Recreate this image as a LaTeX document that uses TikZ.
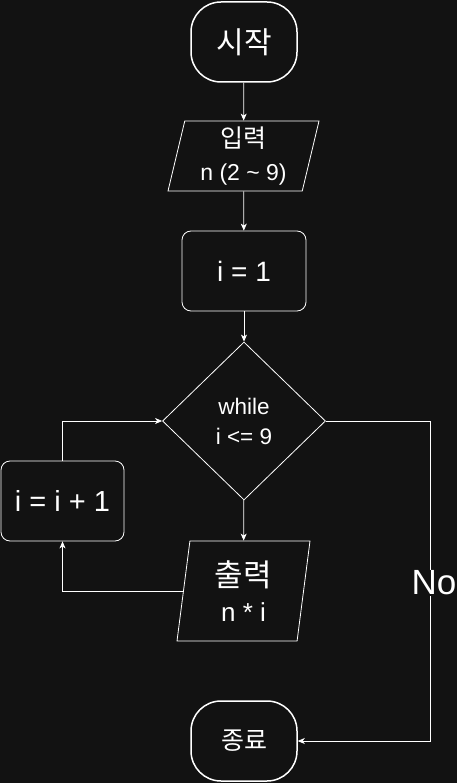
\documentclass[tikz,border=0pt]{standalone}
\usepackage{fontspec}
\setmainfont{Liberation Sans}
\newfontfamily\krfont{Noto Sans CJK KR}
\usepackage{xcolor}
\usepackage{tikz}
\usetikzlibrary{arrows.meta,shapes.geometric}
\definecolor{bg}{HTML}{121212}
\newcommand{\kr}[2]{{\krfont\fontsize{#1}{#1}\selectfont #2}}
\tikzset{
  term/.style={draw=white,line width=1.5pt,rectangle,rounded corners=30pt,minimum width=106pt,minimum height=80pt,inner sep=0pt},
  procbox/.style={draw=white,line width=0.8pt,rectangle,rounded corners=9pt,minimum height=80pt,inner sep=0pt},
  iobox/.style={draw=white,line width=0.8pt,trapezium,trapezium stretches body,inner sep=0pt,align=center},
  decbox/.style={draw=white,line width=0.8pt,diamond,minimum width=163pt,minimum height=158pt,inner sep=0pt,align=center},
  arr/.style={draw=white,line width=0.8pt,-{Stealth[length=7pt,width=6pt,inset=2pt]}}
}

\begin{document}
\begin{tikzpicture}[x=1pt,y=-1pt,text=white]
  \useasboundingbox[fill=bg] (0,0) rectangle (457,783);
  \node[term] (start) at (244,42) {\kr{30}{시작}};
  \node[iobox,minimum width=151pt,minimum height=70pt,trapezium left angle=74,trapezium right angle=106,
    font=\fontsize{23}{33}\selectfont] (input) at (243.5,156) {\kr{25}{입력}\\n (2 \textasciitilde{} 9)};
  \node[procbox,minimum width=124pt,font=\fontsize{28}{28}\selectfont] (init) at (244,271) {i = 1};
  \node[decbox,font=\fontsize{22.5}{30}\selectfont] (cond) at (244,421) {while\\i <= 9};
  \node[iobox,minimum width=133pt,minimum height=100pt,trapezium left angle=78,trapezium right angle=102,
    font=\fontsize{26}{35}\selectfont] (output) at (243.5,591) {\kr{31}{출력}\\n * i};
  \node[procbox,minimum width=123pt,font=\fontsize{29}{29}\selectfont] (incr) at (62.5,501) {i = i + 1};
  \node[term] (end) at (244,741) {\kr{25}{종료}};
  \coordinate (nocorner) at (430,421);

  \draw[arr] (start) -- (input);
  \draw[arr] (input) -- (init);
  \draw[arr] (init) -- (cond);
  \draw[arr] (cond) -- (output);
  \draw[arr] (output.west) -| (incr.south);
  \draw[arr] (incr.north) |- (cond.west);
  \draw[arr] (cond.east) -- (nocorner) |- node[pos=0.253,fill=bg,inner sep=1pt,xshift=4pt,font=\fontsize{35}{35}\selectfont] {No} (end.east);
\end{tikzpicture}
\end{document}
